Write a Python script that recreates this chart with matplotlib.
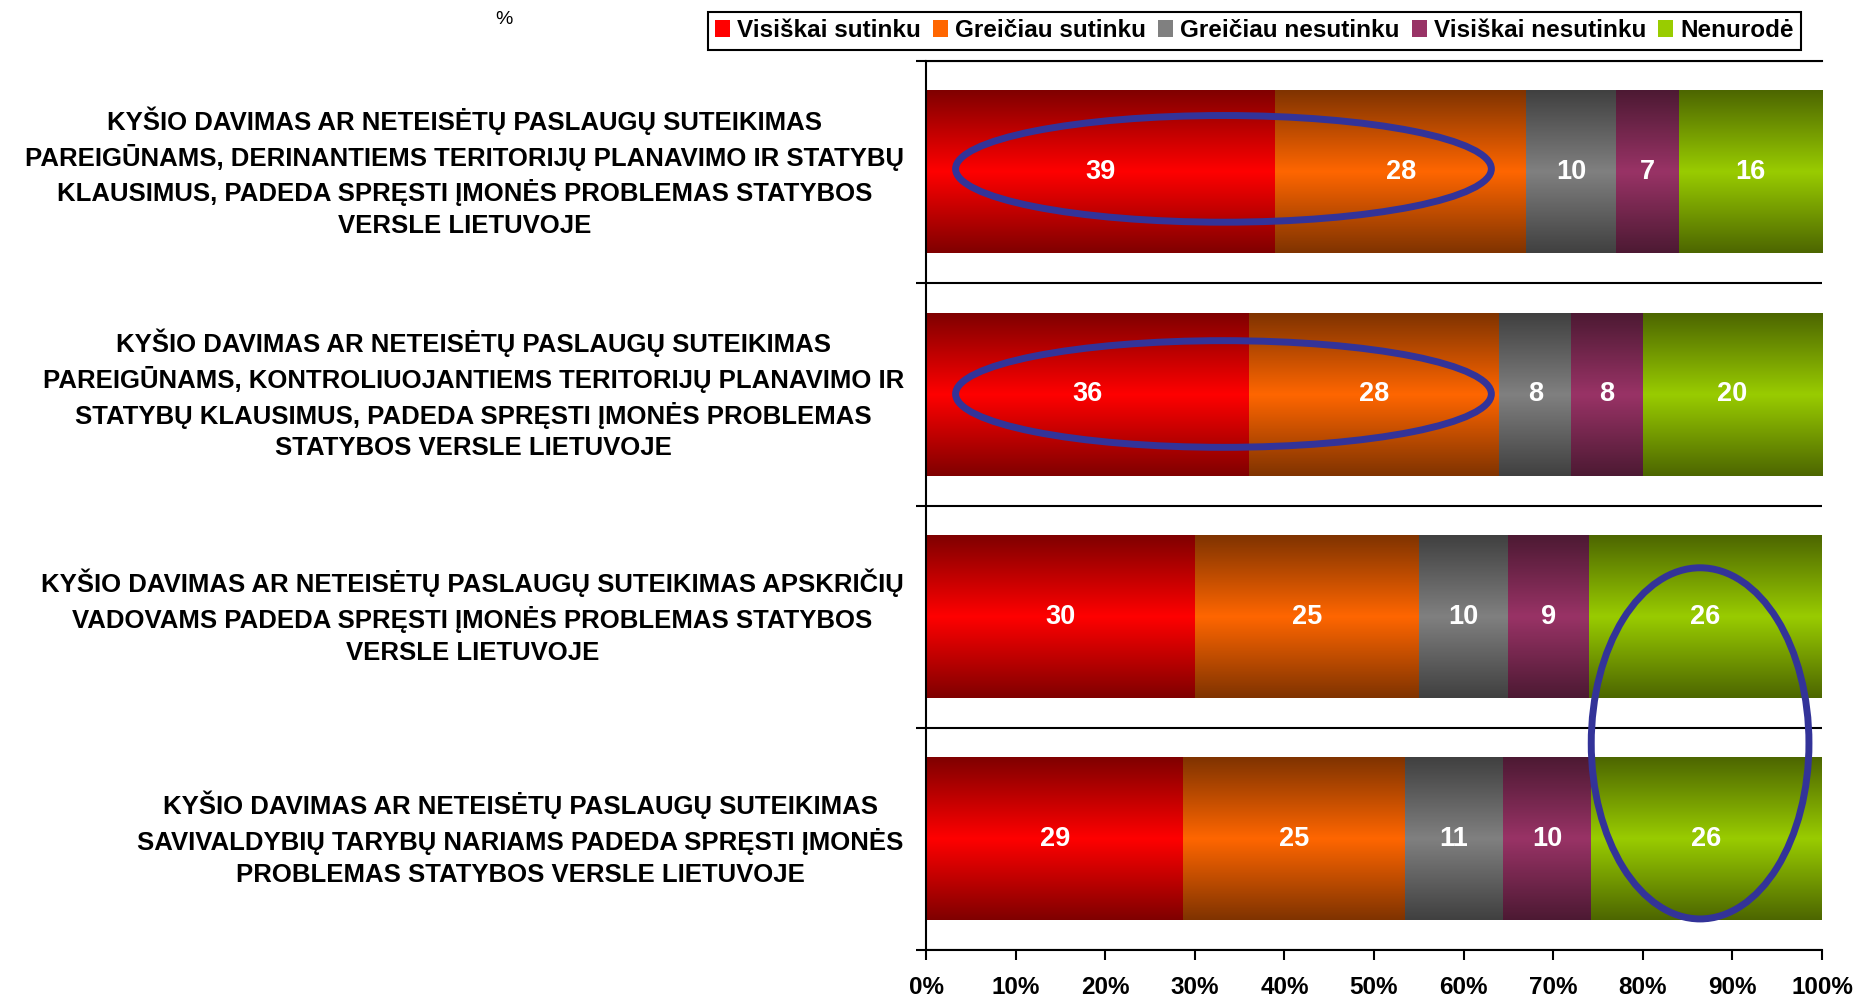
import numpy as np
import pandas as pd
import matplotlib.pyplot as plt
from matplotlib.patches import Ellipse, Patch
from matplotlib.colors import to_rgb

plt.rcParams['font.family'] = ['Liberation Sans', 'DejaVu Sans']

# data
statements = [
    "KYŠIO DAVIMAS AR NETEISĖTŲ PASLAUGŲ SUTEIKIMAS\n"
    "PAREIGŪNAMS, DERINANTIEMS TERITORIJŲ PLANAVIMO IR STATYBŲ\n"
    "KLAUSIMUS, PADEDA SPRĘSTI ĮMONĖS PROBLEMAS STATYBOS\n"
    "VERSLE LIETUVOJE",
    "KYŠIO DAVIMAS AR NETEISĖTŲ PASLAUGŲ SUTEIKIMAS\n"
    "PAREIGŪNAMS, KONTROLIUOJANTIEMS TERITORIJŲ PLANAVIMO IR\n"
    "STATYBŲ KLAUSIMUS, PADEDA SPRĘSTI ĮMONĖS PROBLEMAS\n"
    "STATYBOS VERSLE LIETUVOJE",
    "KYŠIO DAVIMAS AR NETEISĖTŲ PASLAUGŲ SUTEIKIMAS APSKRIČIŲ\n"
    "VADOVAMS PADEDA SPRĘSTI ĮMONĖS PROBLEMAS STATYBOS\n"
    "VERSLE LIETUVOJE",
    "KYŠIO DAVIMAS AR NETEISĖTŲ PASLAUGŲ SUTEIKIMAS\n"
    "SAVIVALDYBIŲ TARYBŲ NARIAMS PADEDA SPRĘSTI ĮMONĖS\n"
    "PROBLEMAS STATYBOS VERSLE LIETUVOJE",
]
answers = ["Visiškai sutinku", "Greičiau sutinku", "Greičiau nesutinku",
           "Visiškai nesutinku", "Nenurodė"]
visiskai_sutinku = [39, 36, 30, 29]
greiciau_sutinku = [28, 28, 25, 25]
greiciau_nesutinku = [10, 8, 10, 11]
visiskai_nesutinku = [7, 8, 9, 10]
nenurode = [16, 20, 26, 26]
colors = ["#FF0000", "#FF6600", "#808080", "#993366", "#99CC00"]
x_ticks = [0, 10, 20, 30, 40, 50, 60, 70, 80, 90, 100]
x_tick_labels = [f"{t}%" for t in x_ticks]

d = pd.DataFrame({
    answers[0]: visiskai_sutinku,
    answers[1]: greiciau_sutinku,
    answers[2]: greiciau_nesutinku,
    answers[3]: visiskai_nesutinku,
    answers[4]: nenurode,
})
# 100% stacked: each row scaled to its own total
shares = d.div(d.sum(axis=1), axis=0) * 100


def gradient_fill(ax, patch, color):
    # dark at the edges, full colour in the middle
    c = np.array(to_rgb(color))
    t = 1 - np.abs(np.linspace(-1, 1, 201))
    img = (c * 0.5)[None, :] + (c * 0.5)[None, :] * t[:, None]
    x0, y0 = patch.get_x(), patch.get_y()
    w, h = patch.get_width(), patch.get_height()
    ax.imshow(img[:, None, :], extent=(x0, x0 + w, y0, y0 + h),
              aspect='auto', interpolation='bilinear', zorder=2)


fig = plt.figure(figsize=(18.7, 10.01), dpi=100)
ax = fig.add_axes([0.4952, 0.0509, 0.4791, 0.8881])

y = np.arange(len(statements))
left = np.zeros(len(statements))
for i, col in enumerate(answers):
    bars = ax.barh(y, shares[col], left=left, height=0.73, color='none', linewidth=0)
    for j, p in enumerate(bars.patches):
        gradient_fill(ax, p, colors[i])
        ax.text(p.get_x() + p.get_width() / 2, y[j], str(d[col][j]),
                ha='center', va='center', color='white', fontsize=19.5,
                fontweight='bold', zorder=4)
    left = left + shares[col].values

# highlighted answers
for cx, cy, w, h in [(33.2, -0.015, 59.8, 0.48), (33.2, 0.998, 59.8, 0.48), (86.4, 2.57, 24.3, 1.58)]:
    ax.add_patch(Ellipse((cx, cy), w, h, fill=False, edgecolor='#333399', lw=5, zorder=5, clip_on=False))

ax.set_xlim(0, 100)
ax.set_ylim(len(statements) - 0.5, -0.5)

ax.set_xticks(x_ticks)
ax.set_xticklabels(x_tick_labels, fontsize=17.5, fontweight='bold')
ax.tick_params(axis='x', length=7, width=1.5, pad=12)

ax.set_yticks(np.arange(len(statements) + 1) - 0.5)
ax.set_yticklabels([])
ax.set_yticks(y, minor=True)
ax.set_yticklabels(statements, minor=True, fontsize=18.5, fontweight='bold')
ax.tick_params(axis='y', which='major', length=7, width=1.5)
ax.tick_params(axis='y', which='minor', length=0, pad=16)
for lab in ax.get_yticklabels(minor=True):
    lab.set_multialignment('center')
    lab.set_verticalalignment('center')
    lab.set_linespacing(1.4)

ax.yaxis.grid(True, which='major', color='black', lw=1.5, zorder=1)
ax.set_axisbelow(True)
for s in ['left', 'bottom', 'top']:
    ax.spines[s].set_linewidth(1.5)
ax.spines['right'].set_visible(False)

handles = [Patch(facecolor=c, edgecolor='none') for c in colors]
leg = fig.legend(handles, answers, loc='upper right', bbox_to_anchor=(1801 / 1870, 1 - 12 / 1001),
                 ncol=5, fancybox=False, framealpha=1, edgecolor='black',
                 prop={'size': 17.5, 'weight': 'bold'}, handlelength=0.6, handleheight=0.7,
                 handletextpad=0.3, columnspacing=0.5, borderpad=0.3, borderaxespad=0)
leg.get_frame().set_linewidth(1.5)

fig.text(504 / 1870, 1 - 19 / 1001, "%", ha='center', va='center', fontsize=14)

plt.savefig("out.png", dpi=100)
